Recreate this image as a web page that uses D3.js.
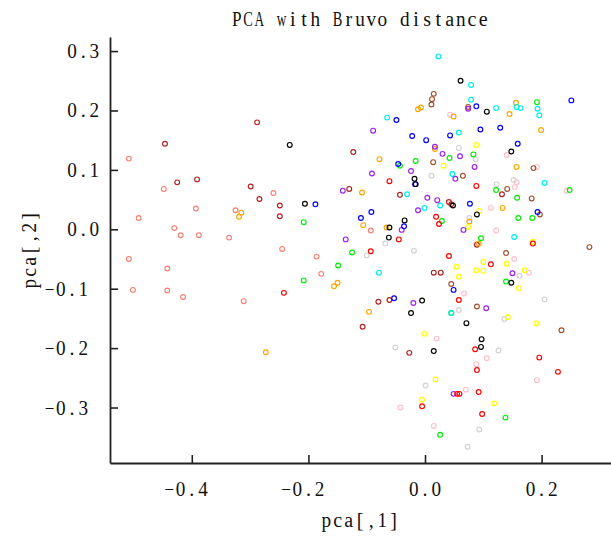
<!DOCTYPE html>
<html>
<head>
<meta charset="utf-8">
<script src="https://cdn.jsdelivr.net/npm/d3@7"></script>
<style>
  html, body { margin: 0; padding: 0; background: #fff; }
  svg { display: block; }
  text { font-family: "Liberation Serif", "DejaVu Serif", serif; fill: #111; }
</style>
</head>
<body>
<svg id="chart" width="611" height="536"></svg>
<script>
// PCA scores (pca[,1], pca[,2]) by population
const pop01 = [[-0.508,0.119],[-0.448,0.068],[-0.491,0.019],[-0.393,0.035],[-0.325,0.032],[-0.260,0.061],[-0.430,0.002],[-0.419,-0.010],[-0.388,-0.010],[-0.336,-0.014],[-0.245,-0.033],[-0.508,-0.050],[-0.442,-0.066],[-0.501,-0.102],[-0.442,-0.103],[-0.415,-0.114],[-0.311,-0.121],[-0.093,-0.002],[-0.186,-0.046],[-0.178,-0.075]];
const pop02 = [[-0.288,0.180],[-0.446,0.144],[-0.425,0.079],[-0.391,0.084],[-0.299,0.072],[-0.284,0.051],[-0.249,0.040],[-0.249,0.022],[-0.123,0.130],[-0.130,0.068],[-0.043,0.058],[-0.080,-0.122],[-0.061,-0.119],[-0.107,-0.164],[0.041,0.046],[0.045,0.042],[0.132,0.059],[0.089,-0.026],[0.015,-0.073],[0.027,-0.073],[-0.027,-0.208]];
const pop03 = [[0.015,0.228],[0.012,0.219],[0.011,0.210],[0.074,0.206],[0.014,0.113],[0.065,0.090],[0.186,0.103],[0.141,0.068],[0.183,0.052],[0.197,0.025],[0.282,-0.030],[0.139,-0.040],[0.045,-0.092],[0.089,-0.130],[0.234,-0.170]];
const pop04 = [[-0.242,-0.107],[-0.061,0.081],[-0.093,-0.037],[-0.045,-0.017],[0.088,0.073],[0.019,0.021],[0.024,0.009],[0.041,-0.045],[0.113,-0.059],[0.058,-0.119],[0.086,-0.202],[0.089,-0.237],[0.055,-0.277],[0.059,-0.277],[0.092,-0.274],[-0.005,-0.298],[0.098,-0.311],[0.185,-0.024],[0.196,-0.216],[0.228,-0.240]];
const pop05 = [[-0.232,0.142],[-0.206,0.043],[-0.061,0.003],[-0.062,-0.014],[-0.035,0.015],[0.061,0.250],[0.106,0.198],[-0.018,0.085],[-0.016,0.076],[0.048,0.040],[0.089,0.025],[0.148,0.131],[-0.005,-0.120],[-0.024,-0.141],[0.071,-0.158],[0.015,-0.205],[0.097,-0.185],[0.096,-0.198],[0.148,-0.090]];
const pop06 = [[-0.208,0.012],[-0.208,-0.086],[-0.043,0.107],[-0.125,-0.039],[-0.149,-0.061],[0.042,0.120],[0.083,0.126],[-0.016,0.115],[0.122,0.066],[0.029,0.014],[0.096,-0.015],[0.045,-0.141],[0.026,-0.346],[0.192,0.214],[0.248,0.066],[0.158,0.053],[0.160,0.019],[0.184,0.019],[0.139,-0.088],[0.138,-0.317]];
const pop07 = [[-0.315,0.028],[-0.319,0.021],[-0.273,-0.207],[-0.078,0.118],[-0.108,0.062],[-0.106,0.007],[-0.066,0.003],[-0.150,-0.090],[-0.156,-0.096],[-0.096,-0.139],[-0.007,0.205],[-0.012,0.202],[0.049,0.190],[0.017,0.135],[0.156,0.213],[0.145,0.194],[0.199,0.167],[0.157,0.105],[0.133,0.036],[0.076,0.013],[0.092,-0.024]];
const pop08 = [[0.088,0.142],[0.032,0.107],[0.093,0.031],[0.074,0.004],[0.054,-0.063],[0.100,-0.055],[0.088,-0.069],[0.100,-0.070],[0.058,-0.080],[-0.001,-0.176],[0.018,-0.253],[-0.005,-0.287],[0.119,-0.293],[0.142,-0.148],[0.191,-0.158],[0.185,-0.021],[0.140,-0.058],[0.171,-0.069],[0.161,-0.099]];
const pop09 = [[-0.049,0.184],[-0.046,0.110],[-0.188,0.042],[-0.092,0.029],[-0.110,0.019],[-0.053,-0.116],[0.088,0.207],[0.095,0.168],[0.129,0.171],[-0.022,0.157],[0.002,0.150],[0.043,0.158],[-0.017,0.076],[0.077,0.043],[-0.036,0.005],[0.049,-0.102],[0.251,0.217],[0.159,0.144],[0.193,0.029]];
const pop10 = [[-0.065,0.188],[-0.079,-0.073],[0.023,0.291],[0.079,0.243],[0.079,0.218],[0.122,0.204],[0.058,0.163],[0.047,0.093],[-0.031,0.059],[-0.001,0.036],[0.026,0.040],[0.045,-0.141],[0.157,0.206],[0.164,0.204],[0.193,0.203],[0.196,0.192],[0.205,0.078],[0.153,-0.013]];
const pop11 = [[-0.089,0.166],[-0.091,0.094],[-0.141,0.065],[-0.136,-0.017],[-0.040,-0.001],[0.074,0.203],[0.017,0.139],[0.030,0.127],[0.060,0.123],[0.085,0.105],[-0.024,0.098],[0.052,0.085],[0.004,0.053],[0.021,0.049],[-0.012,0.032],[0.066,-0.001],[-0.020,-0.124],[0.105,-0.133],[0.049,-0.277],[0.150,-0.074]];
const pop12 = [[0.043,0.193],[0.140,0.125],[0.192,0.105],[0.157,0.079],[0.154,0.071],[0.243,0.065],[0.113,0.036],[0.122,-0.002],[0.153,-0.050],[0.178,-0.073],[0.067,-0.108],[0.020,-0.184],[0.106,-0.217],[0.088,-0.227],[0.070,-0.270],[-0.042,-0.300],[0.015,-0.331],[0.192,-0.254]];
const pop13 = [[-0.068,-0.024],[-0.100,-0.044],[-0.051,-0.199],[0.058,0.137],[0.087,0.118],[0.011,0.090],[0.123,0.076],[0.076,0.019],[-0.019,-0.036],[0.058,-0.136],[0.136,-0.151],[0.126,-0.204],[0.001,-0.263],[0.093,-0.337],[0.073,-0.366],[0.152,0.083],[0.162,-0.078],[0.205,-0.118]];

const populations = [pop13, pop12, pop01, pop02, pop03, pop07, pop08, pop06, pop10, pop11, pop09, pop04, pop05];
const popColours = ["#d3d3d3", "#ffc0cb", "#fa8072", "#b22222", "#a0522d", "#ffa500", "#ffff00", "#00ee00", "#00eeee", "#a020f0", "#0000ff", "#ff0000", "#000000"];

const xTicks = [-0.4, -0.2, 0.0, 0.2];
const yTicks = [-0.3, -0.2, -0.1, 0.0, 0.1, 0.2, 0.3];
const xTickLabels = ["\u22120.4", "\u22120.2", "0.0", "0.2"];
const yTickLabels = ["\u22120.3", "\u22120.2", "\u22120.1", "0.0", "0.1", "0.2", "0.3"];
const titleText = "PCA with Bruvo distance";
const xTitle = "pca[,1]";
const yTitle = "pca[,2]";

const svg = d3.select("#chart");
const plot = { left: 110, right: 611, top: 37, bottom: 463 };
const CELL = 11.2;          // fixed character advance
const FONT = 20;

const x = d3.scaleLinear().domain([-0.5403, 0.319]).range([plot.left, plot.right]);
const y = d3.scaleLinear().domain([-0.3934, 0.3237]).range([plot.bottom, plot.top]);

// monospaced text: every character is its own glyph, centred in a fixed cell;
// glyphs wider than a cell are squeezed horizontally to fit inside it
function mono(g, str, x0, yy) {
  const grp = g.append("g").attr("class", "mono");
  Array.from(str).forEach((ch, i) => {
    if (ch === " ") return;
    const t = grp.append("text")
      .attr("text-anchor", "middle").attr("font-size", FONT)
      .text(ch);
    const w = t.node().getComputedTextLength();
    const sx = w > CELL - 1.6 ? (CELL - 1.6) / w : 1;
    t.attr("transform", `translate(${x0 + (i + 0.5) * CELL},${yy}) scale(${sx},1)`);
  });
  return grp;
}
// width the layout reserves for a label: the minus counts as a double cell
function reserved(str) {
  return Array.from(str).reduce((s, ch) => s + (ch === "\u2212" ? 2 : 1), 0) * CELL;
}

// axes (ticks point into the plot)
const gx = svg.append("g").attr("transform", `translate(0,${plot.bottom})`)
  .call(d3.axisBottom(x).tickValues(xTicks).tickSizeInner(-8).tickSizeOuter(0).tickFormat(""));
const gy = svg.append("g").attr("transform", `translate(${plot.left},0)`)
  .call(d3.axisLeft(y).tickValues(yTicks).tickSizeInner(-8).tickSizeOuter(0).tickFormat(""));
[gx, gy].forEach(g => {
  g.select(".domain").attr("stroke", "#222").attr("stroke-width", 1.8);
  g.selectAll(".tick line").attr("stroke", "#222").attr("stroke-width", 1.6);
});

// tick labels
const labels = svg.append("g");
xTicks.forEach((v, i) => {
  const s = xTickLabels[i];
  mono(labels, s, x(v) - reserved(s) / 2, 496);
});
yTicks.forEach((v, i) => {
  const s = yTickLabels[i];
  mono(labels, s, 100 - reserved(s), y(v) + 7);
});

// titles
mono(svg, titleText, 360 - titleText.length * CELL / 2, 26);
mono(svg, xTitle, 360 - xTitle.length * CELL / 2, 527);
const gyt = svg.append("g").attr("transform", `translate(36,250) rotate(-90)`);
mono(gyt, yTitle, -yTitle.length * CELL / 2, 0);

// points
const pts = svg.append("g");
populations.forEach((pop, k) => {
  pts.selectAll(null).data(pop).join("circle")
    .attr("cx", d => x(d[0]))
    .attr("cy", d => y(d[1]))
    .attr("r", 2.4)
    .attr("fill", "none")
    .attr("stroke", popColours[k])
    .attr("stroke-width", 1.15);
});
</script>
</body>
</html>
